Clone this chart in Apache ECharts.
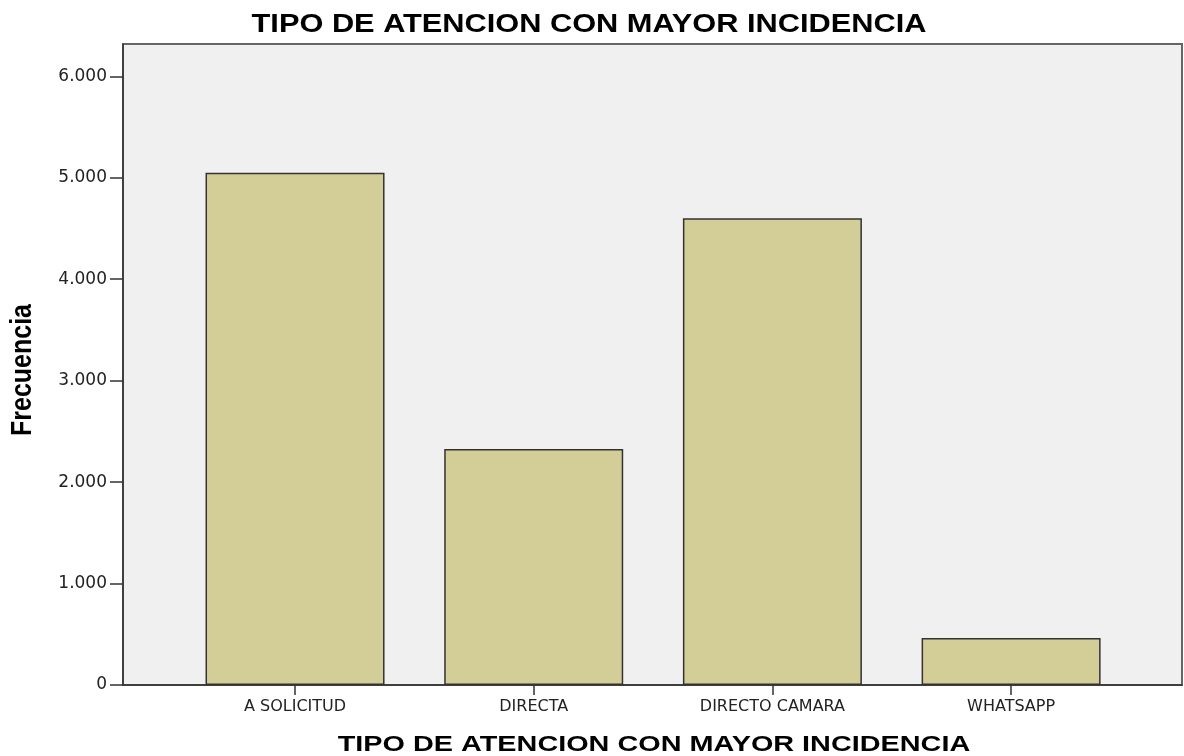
<!DOCTYPE html>
<html>
<head>
<meta charset="utf-8">
<title>TIPO DE ATENCION CON MAYOR INCIDENCIA</title>
<script src="https://cdn.jsdelivr.net/npm/echarts@6/dist/echarts.min.js"></script>
<style>
  html, body { margin: 0; padding: 0; background: #fff; }
  #chart { width: 1184px; height: 756px; }
</style>
</head>
<body>
<div id="chart"></div>
<script>
  // datos
  var categorias = ['A SOLICITUD', 'DIRECTA', 'DIRECTO CAMARA', 'WHATSAPP']
  var frecuencias = [5050, 2325, 4600, 463]
  var ticksY = [0, 1000, 2000, 3000, 4000, 5000, 6000]
  var titulo = 'TIPO DE ATENCION CON MAYOR INCIDENCIA'

  var posiciones = categorias.map(function (c, i) { return i })

  function miles(v) {
    return String(v).replace(/\B(?=(\d{3})+(?!\d))/g, '.')
  }

  var myChart = echarts.init(document.getElementById('chart'))
  var option = {
    backgroundColor: '#fff',
    animation: false,
    grid: {
      left: 123,
      top: 44,
      width: 1059,
      height: 641,
      show: true,
      backgroundColor: '#f0f0f0',
      borderColor: '#666',
      borderWidth: 2
    },
    xAxis: {
      type: 'value',
      min: -0.7207,
      max: 3.716,
      splitLine: { show: false },
      axisLine: { show: true, onZero: false, lineStyle: { color: '#333', width: 1.5 } },
      axisTick: {
        show: true,
        length: 10,
        customValues: posiciones,
        lineStyle: { color: '#333', width: 1.5 }
      },
      axisLabel: {
        customValues: posiciones,
        margin: 14,
        color: '#222',
        fontFamily: 'DejaVu Sans',
        fontSize: 16,
        formatter: function (v) { return categorias[Math.round(v)] }
      }
    },
    yAxis: {
      type: 'value',
      min: 0,
      max: 6318,
      splitLine: { show: false },
      axisLine: { show: true, onZero: false, lineStyle: { color: '#333', width: 1.5 } },
      axisTick: {
        show: true,
        length: 13,
        customValues: ticksY,
        lineStyle: { color: '#333', width: 1.5 }
      },
      axisLabel: {
        customValues: ticksY,
        margin: 16,
        color: '#222',
        fontFamily: 'DejaVu Sans',
        fontSize: 17,
        formatter: miles
      }
    },
    series: [{
      type: 'bar',
      barWidth: 179,
      data: frecuencias.map(function (v, i) { return [i, v] }),
      itemStyle: { color: '#d3ce97', borderColor: '#333', borderWidth: 1.5 }
    }],
    graphic: [
      { // titulo superior
        type: 'text', x: 589, y: 25, scaleX: 1.23,
        style: {
          text: titulo, fill: '#000', align: 'center', verticalAlign: 'middle',
          font: 'bold 25px "Liberation Sans", Arial, sans-serif'
        }
      },
      { // titulo eje x
        type: 'text', x: 654, y: 745, scaleX: 1.31,
        style: {
          text: titulo, fill: '#000', align: 'center', verticalAlign: 'middle',
          font: 'bold 22px "Liberation Sans", Arial, sans-serif'
        }
      },
      { // titulo eje y
        type: 'text', x: 23, y: 370, rotation: Math.PI / 2, scaleY: 1.2,
        style: {
          text: 'Frecuencia', fill: '#000', align: 'center', verticalAlign: 'middle',
          font: 'bold 25px "Liberation Sans", Arial, sans-serif'
        }
      }
    ]
  }
  myChart.setOption(option)
</script>
</body>
</html>
